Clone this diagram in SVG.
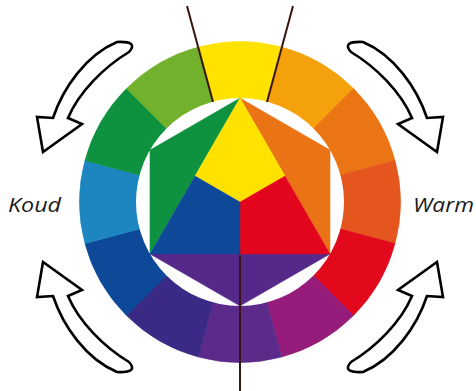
<svg xmlns="http://www.w3.org/2000/svg" width="476" height="391" viewBox="0 0 476 391">
  <style>
    .seg { stroke-width: 0.6; }
    .hex { stroke-width: 0.4; }
    .arrow { fill: #ffffff; stroke: #000000; stroke-width: 2.6; stroke-linejoin: miter; }
    .rule { stroke: #3a1512; stroke-width: 2; fill: none; }
    .label { font-family: "Open Sans", "Liberation Sans", sans-serif; font-style: italic; font-size: 20px; fill: #1a1a1a; }
  </style>
  <defs>
    <path id="arrowShape" d="M117,42 Q139,41 129,52 C104,67 79,92 68,118 L82,124 L43,152 L37,117 L53,118 C63,88 86,55 117,42 Z"/>
  </defs>
  <rect width="476" height="391" fill="#ffffff"/>

  <g id="ring">
    <path class="seg" fill="#FFE200" stroke="#FFE200" d="M240,202 L198.46,46.97 A160.5,160.5 0 0 1 281.54,46.97 Z"/>
    <path class="seg" fill="#F4A10C" stroke="#F4A10C" d="M240,202 L281.54,46.97 A160.5,160.5 0 0 1 353.49,88.51 Z"/>
    <path class="seg" fill="#EB7415" stroke="#EB7415" d="M240,202 L353.49,88.51 A160.5,160.5 0 0 1 395.03,160.46 Z"/>
    <path class="seg" fill="#E5561E" stroke="#E5561E" d="M240,202 L395.03,160.46 A160.5,160.5 0 0 1 395.03,243.54 Z"/>
    <path class="seg" fill="#E1091B" stroke="#E1091B" d="M240,202 L395.03,243.54 A160.5,160.5 0 0 1 353.49,315.49 Z"/>
    <path class="seg" fill="#961C7B" stroke="#961C7B" d="M240,202 L353.49,315.49 A160.5,160.5 0 0 1 281.54,357.03 Z"/>
    <path class="seg" fill="#5C2A8B" stroke="#5C2A8B" d="M240,202 L281.54,357.03 A160.5,160.5 0 0 1 198.46,357.03 Z"/>
    <path class="seg" fill="#3A2A86" stroke="#3A2A86" d="M240,202 L198.46,357.03 A160.5,160.5 0 0 1 126.51,315.49 Z"/>
    <path class="seg" fill="#0D4899" stroke="#0D4899" d="M240,202 L126.51,315.49 A160.5,160.5 0 0 1 84.97,243.54 Z"/>
    <path class="seg" fill="#1D86C0" stroke="#1D86C0" d="M240,202 L84.97,243.54 A160.5,160.5 0 0 1 84.97,160.46 Z"/>
    <path class="seg" fill="#0E9240" stroke="#0E9240" d="M240,202 L84.97,160.46 A160.5,160.5 0 0 1 126.51,88.51 Z"/>
    <path class="seg" fill="#72B12B" stroke="#72B12B" d="M240,202 L126.51,88.51 A160.5,160.5 0 0 1 198.46,46.97 Z"/>
    <circle cx="240" cy="202" r="104" fill="#ffffff"/>
  </g>

  <g id="hexagon">
    <polygon class="hex" fill="#0E9240" stroke="#0E9240" points="240,98 149.93,150 149.93,254"/>
    <polygon class="hex" fill="#EA7316" stroke="#EA7316" points="240,98 330.07,150 330.07,254"/>
    <polygon class="hex" fill="#55298A" stroke="#55298A" points="149.93,254 240,306 330.07,254"/>
    <polygon class="hex" fill="#FFE200" stroke="#FFE200" points="240,98 285,176 240,202 195,176"/>
    <polygon class="hex" fill="#E2051B" stroke="#E2051B" points="285,176 330.07,254 240,254 240,202"/>
    <polygon class="hex" fill="#0D4899" stroke="#0D4899" points="195,176 240,202 240,254 149.93,254"/>
  </g>

  <g id="connectors">
    <line class="rule" x1="213" y1="102" x2="187" y2="6"/>
    <line class="rule" x1="267" y1="102" x2="293" y2="6"/>
    <line class="rule" x1="240" y1="255" x2="240" y2="391"/>
  </g>

  <g id="arrow-top-left"><use href="#arrowShape" class="arrow"/></g>
  <g id="arrow-top-right"><use href="#arrowShape" class="arrow" transform="matrix(-1,0,0,1,480,0)"/></g>
  <g id="arrow-bottom-left"><use href="#arrowShape" class="arrow" transform="matrix(1,0,0,-1,0,414)"/></g>
  <g id="arrow-bottom-right"><use href="#arrowShape" class="arrow" transform="matrix(-1,0,0,-1,480,414)"/></g>

  <g id="label-koud"><text class="label" x="8" y="212" textLength="53" lengthAdjust="spacingAndGlyphs">Koud</text></g>
  <g id="label-warm"><text class="label" x="413" y="212" textLength="61" lengthAdjust="spacingAndGlyphs">Warm</text></g>
</svg>
